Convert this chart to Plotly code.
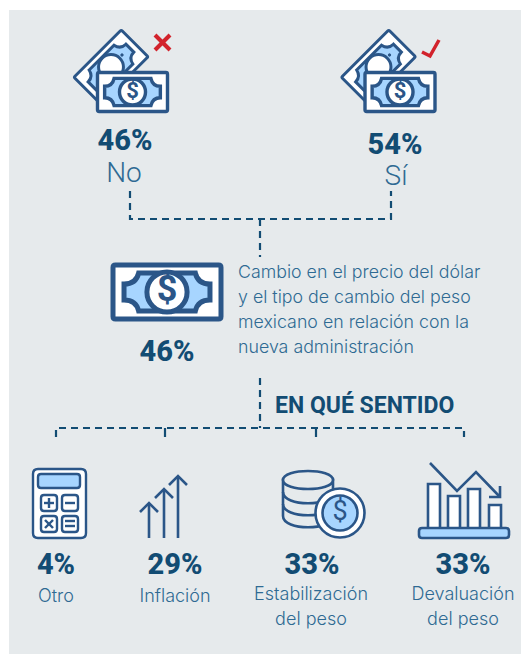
import math
import plotly.graph_objects as go

# ---- content ----
top_pct = ["46%", "54%"]
top_lab = ["No", "Sí"]
mid_pct = ["46%"]
mid_text = ["Cambio en el precio del dólar", "y el tipo de cambio del peso",
            "mexicano en relación con la", "nueva administración"]
heading = "EN QUÉ SENTIDO"
bot_pct = ["4%", "29%", "33%", "33%"]
bot_lab = ["Otro", "Inflación"]
bot_lab_first = ["Estabilización", "Devaluación"]
bot_lab_second = ["del peso", "del peso"]

# ---- style ----
BG = "#e6eaec"; ICON = "#2b5688"; LIGHT = "#a7d5ff"; DARK = "#124c73"; TXT = "#2f6a93"; RED = "#d2232c"
NUMF = "Roboto"; TXTF = "Inter"
shapes = []

def S(path, fill="rgba(0,0,0,0)", color=ICON, width=3):
    shapes.append(dict(type="path", path=path, fillcolor=fill, xref="x", yref="y", layer="below",
                       line=dict(color=color, width=width)))

def circle(cx, cy, r, fill, color=ICON, width=3):
    shapes.append(dict(type="circle", x0=cx-r, x1=cx+r, y0=cy-r, y1=cy+r, xref="x", yref="y", layer="below",
                       fillcolor=fill, line=dict(color=color, width=width)))

def rrect(x0, y0, x1, y1, r, fill="white", width=3, color=ICON):
    S(f"M{x0+r},{y0}L{x1-r},{y0}Q{x1},{y0} {x1},{y0+r}L{x1},{y1-r}Q{x1},{y1} {x1-r},{y1}"
      f"L{x0+r},{y1}Q{x0},{y1} {x0},{y1-r}L{x0},{y0+r}Q{x0},{y0} {x0+r},{y0}Z", fill, color, width)

def line(pts, color=ICON, width=3, dash=None):
    p = "M" + "L".join(f"{x},{y}" for x, y in pts)
    shapes.append(dict(type="path", path=p, xref="x", yref="y", layer="below",
                       line=dict(color=color, width=width, dash=dash or "solid")))

def bill(cx, cy, w, h, lw, ang=0.0):
    a = math.radians(ang)
    def T(x, y):
        return f"{cx+x*math.cos(a)-y*math.sin(a):.2f},{cy+x*math.sin(a)+y*math.cos(a):.2f}"
    W, H = w/2, h/2
    r = lw*0.5
    S(f"M{T(-W+r,-H)}L{T(W-r,-H)}Q{T(W,-H)} {T(W,-H+r)}L{T(W,H-r)}Q{T(W,H)} {T(W-r,H)}"
      f"L{T(-W+r,H)}Q{T(-W,H)} {T(-W,H-r)}L{T(-W,-H+r)}Q{T(-W,-H)} {T(-W+r,-H)}Z", "white", ICON, lw)
    hx, hy = 0.398*w, 0.350*h
    S(f"M{T(-hx*.66,-hy)}L{T(hx*.66,-hy)}Q{T(hx*.72,-hy*.42)} {T(hx,-hy*.42)}"
      f"L{T(hx,hy*.42)}Q{T(hx*.72,hy*.42)} {T(hx*.66,hy)}L{T(-hx*.66,hy)}"
      f"Q{T(-hx*.72,hy*.42)} {T(-hx,hy*.42)}L{T(-hx,-hy*.42)}Q{T(-hx*.72,-hy*.42)} {T(-hx*.66,-hy)}Z",
      LIGHT, ICON, lw)
    circle(cx, cy, 0.186*w, "white", ICON, lw)

def money(dx, mark):
    bill(111+dx, 67, 67, 38, 3, -45)
    circle(122+dx, 55, 1.2, ICON, ICON, 1)
    bill(132.5+dx, 92, 70, 39, 3.4)
    mark(dx)

def cross(dx):
    line([(155+dx, 35), (170+dx, 50)], RED, 4)
    line([(170+dx, 35), (155+dx, 50)], RED, 4)

def check(dx):
    line([(422, 52), (430, 56), (439, 40)], RED, 3.5)

# ---- panel ----
shapes.append(dict(type="rect", x0=9, x1=521, y0=10, y1=654, xref="x", yref="y", layer="below",
                   fillcolor=BG, line=dict(width=0)))

# ---- connectors ----
D = "7px,5px"
W = 2.2
line([(130, 191), (130, 219), (391, 219), (391, 191)], DARK, W, D)
line([(260, 219), (260, 257)], DARK, W, D)
line([(260, 378), (260, 428)], DARK, W, D)
line([(56, 437), (56, 428), (464, 428), (464, 437)], DARK, W, D)
line([(165, 428), (165, 437)], DARK, W)
line([(316, 428), (316, 437)], DARK, W)

# ---- icons ----
money(0, cross)
money(267.5, check)
bill(167, 292, 108, 54, 5)

# calculator
rrect(33, 469, 86, 538, 5, "white", 2.4)
rrect(38, 474, 80, 488, 3, LIGHT, 2.4)
for bx, by in [(41, 495), (62, 495), (41, 516), (62, 516)]:
    rrect(bx, by, bx+16, by+16, 3, "white", 2.4)
line([(44, 503), (54, 503)], ICON, 2.4); line([(49, 498), (49, 508)], ICON, 2.4)
line([(65, 503), (75, 503)], ICON, 2.4)
line([(45, 520), (53, 528)], ICON, 2.4); line([(53, 520), (45, 528)], ICON, 2.4)
line([(65, 521), (75, 521)], ICON, 2.4); line([(65, 526), (75, 526)], ICON, 2.4)

# rising arrows
for ax, top in [(149, 503), (164, 489), (178, 476)]:
    line([(ax, 538), (ax, top)], ICON, 2.6)
    line([(ax-9, top+9), (ax, top), (ax+9, top+9)], ICON, 2.6)

# coins
S("M283,480L283,516C283,531 333,531 333,516L333,480Z", BG, ICON, 2.6)
S("M283,480C283,468 333,468 333,480C333,492 283,492 283,480Z", BG, ICON, 2.6)
S("M283,492C283,507 333,507 333,492", "rgba(0,0,0,0)", ICON, 2.6)
S("M283,504C283,519 333,519 333,504", "rgba(0,0,0,0)", ICON, 2.6)
circle(340, 513, 24.5, "white", ICON, 2.6)
circle(340, 513, 17.5, LIGHT, ICON, 2.6)

# falling chart
for x0, top in [(428, 484), (448, 496), (468, 489), (489, 505)]:
    S(f"M{x0},529L{x0},{top}L{x0+12},{top}L{x0+12},529Z", "white", ICON, 2.6)
rrect(419, 528, 509, 538, 3, LIGHT, 2.6)
line([(430, 463), (457, 491), (476, 472), (500, 497)], ICON, 2.6)
line([(500, 486), (500, 497), (489, 497)], ICON, 2.6)

fig = go.Figure()

def texts(xs, ys, txt, size, color, family, weight, pos="middle center"):
    fig.add_trace(go.Scatter(x=xs, y=ys, text=txt, mode="text", textposition=pos, hoverinfo="skip",
                             textfont=dict(size=size, color=color, family=family, weight=weight)))

texts([125, 395], [143, 147], top_pct, 29, DARK, NUMF, 800)
texts([124, 396], [175, 178], top_lab, 28, TXT, "Roboto", 300)
texts([167], [354], mid_pct, 29, DARK, NUMF, 800)
texts([238]*4, [274, 299, 324, 349], mid_text, 17.8, TXT, TXTF, 300, "middle right")
texts([275], [407], [heading], 23, DARK, NUMF, 700, "middle right")
texts([56, 175, 312, 463], [567]*4, bot_pct, 29, DARK, NUMF, 800)
texts([56, 175], [597, 597], bot_lab, 18, TXT, TXTF, 300)
texts([311, 463], [595, 595], bot_lab_first, 18, TXT, TXTF, 300)
texts([311, 463], [620, 620], bot_lab_second, 18, TXT, TXTF, 300)
# dollar signs inside the round seals
texts([132.5, 400, 167], [92, 92, 292], ["$"]*3, [22, 22, 36], ICON, NUMF, 700)
texts([340], [513], ["$"], 27, ICON, NUMF, 400)

fig.update_layout(
    width=524, height=654, margin=dict(l=0, r=0, t=0, b=0), showlegend=False,
    paper_bgcolor="white", plot_bgcolor="white", shapes=shapes,
    xaxis=dict(range=[0, 524], visible=False, fixedrange=True),
    yaxis=dict(range=[654, 0], visible=False, fixedrange=True),
)
fig.write_html("out.html", config=dict(displayModeBar=False),
               post_script="document.body.style.margin='0';document.body.style.overflow='hidden';")
